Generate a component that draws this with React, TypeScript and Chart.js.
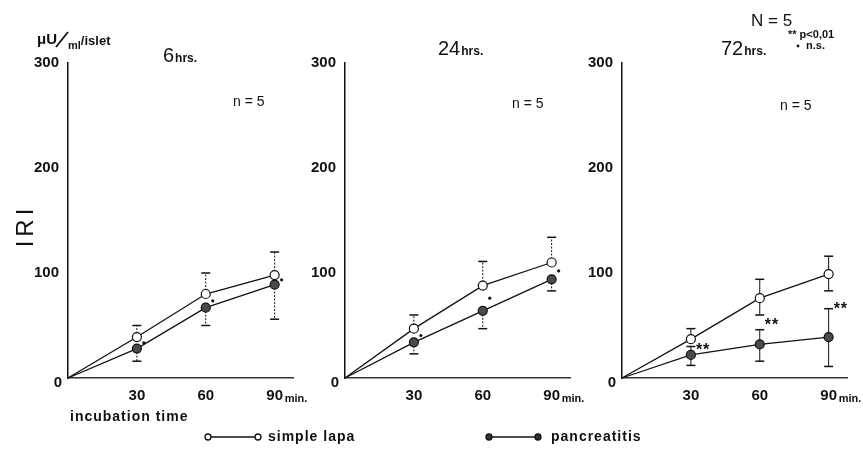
import { useEffect, useRef } from 'react';
import { Chart, registerables } from 'chart.js';

Chart.register(...registerables);

const FONT = '"Liberation Sans", Arial, sans-serif';
const INK = '#111111';

// ---------- data ----------
const TIMES = [0, 30, 60, 90];
const X_TICKS = [30, 60, 90];
const Y_MAX = 300;
const Y_STEP = 100;
const SERIES_NAMES = ['simple lapa', 'pancreatitis'];
const PANEL_HOURS = ['6', '24', '72'];
const PANEL_N = ['n = 5', 'n = 5', 'n = 5'];

// 6 hrs
const LAPA_6H = [0, 39, 80, 98];
const LAPA_6H_HI = [null, 50, 100, 120];
const LAPA_6H_LO = [null, null, null, null];
const PANC_6H = [0, 28, 67, 89];
const PANC_6H_HI = [null, null, null, null];
const PANC_6H_LO = [null, 16, 50, 56];
const SIG_6H = [null, '.', '.', '.'];

// 24 hrs
const LAPA_24H = [0, 47, 88, 110];
const LAPA_24H_HI = [null, 60, 111, 134];
const LAPA_24H_LO = [null, null, null, null];
const PANC_24H = [0, 34, 64, 94];
const PANC_24H_HI = [null, null, null, null];
const PANC_24H_LO = [null, 23, 47, 83];
const SIG_24H = [null, '.', '.', '.'];

// 72 hrs
const LAPA_72H = [0, 37, 76, 99];
const LAPA_72H_HI = [null, 47, 94, 116];
const LAPA_72H_LO = [null, null, 60, 83];
const PANC_72H = [0, 22, 32, 39];
const PANC_72H_HI = [null, 30, 46, 66];
const PANC_72H_LO = [null, 12, 16, 11];
const SIG_72H = [null, '**', '**', '**'];

// ---------- layout (pixels) ----------
const W = 863;
const H = 450;
const AREA_TOP = 63;
const AREA_BOTTOM = 378;
const AREA_W = 225;
const X_MAX = 98;
const Y_AXIS_W = 40;
const X_AXIS_H = 30;

type Panel = {
  lapa: number[]; lapaHi: (number | null)[]; lapaLo: (number | null)[];
  panc: number[]; pancHi: (number | null)[]; pancLo: (number | null)[];
  sig: (string | null)[];
  hours: string; n: string;
  left: number; titleX: number; titleY: number; nX: number; nY: number;
  dashedErr: boolean; first: boolean;
};

const PANELS: Panel[] = [
  { lapa: LAPA_6H, lapaHi: LAPA_6H_HI, lapaLo: LAPA_6H_LO, panc: PANC_6H, pancHi: PANC_6H_HI, pancLo: PANC_6H_LO, sig: SIG_6H,
    hours: PANEL_HOURS[0], n: PANEL_N[0], left: 68, titleX: 163, titleY: 62, nX: 233, nY: 102, dashedErr: true, first: true },
  { lapa: LAPA_24H, lapaHi: LAPA_24H_HI, lapaLo: LAPA_24H_LO, panc: PANC_24H, pancHi: PANC_24H_HI, pancLo: PANC_24H_LO, sig: SIG_24H,
    hours: PANEL_HOURS[1], n: PANEL_N[1], left: 345, titleX: 438, titleY: 55, nX: 512, nY: 104, dashedErr: true, first: false },
  { lapa: LAPA_72H, lapaHi: LAPA_72H_HI, lapaLo: LAPA_72H_LO, panc: PANC_72H, pancHi: PANC_72H_HI, pancLo: PANC_72H_LO, sig: SIG_72H,
    hours: PANEL_HOURS[2], n: PANEL_N[2], left: 622, titleX: 721, titleY: 55, nX: 780, nY: 106, dashedErr: false, first: false },
];

function txt(ctx: CanvasRenderingContext2D, s: string, x: number, y: number, font: string,
  align: CanvasTextAlign = 'left', base: CanvasTextBaseline = 'alphabetic', spacing = 0) {
  ctx.font = font;
  ctx.textAlign = align;
  ctx.textBaseline = base;
  ctx.fillStyle = INK;
  (ctx as any).letterSpacing = `${spacing}px`;
  ctx.fillText(s, x, y);
  const w = ctx.measureText(s).width;
  (ctx as any).letterSpacing = '0px';
  return w;
}

function makePlugin(p: Panel) {
  return {
    id: 'overlay',
    beforeDatasetsDraw(chart: any) {
      const ctx: CanvasRenderingContext2D = chart.ctx;
      const xs = chart.scales.x;
      const ys = chart.scales.y;
      const bars = [
        [p.lapa, p.lapaHi], [p.lapa, p.lapaLo], [p.panc, p.pancHi], [p.panc, p.pancLo],
      ] as [number[], (number | null)[]][];
      ctx.save();
      ctx.strokeStyle = INK;
      for (const [vals, ends] of bars) {
        for (let i = 0; i < TIMES.length; i++) {
          const e = ends[i];
          if (e == null) continue;
          const x = xs.getPixelForValue(TIMES[i]);
          const y0 = ys.getPixelForValue(vals[i]);
          const y1 = ys.getPixelForValue(e);
          ctx.lineWidth = 1;
          ctx.setLineDash(p.dashedErr ? [2, 1.5] : []);
          ctx.beginPath();
          ctx.moveTo(x, y0);
          ctx.lineTo(x, y1);
          ctx.stroke();
          ctx.setLineDash([]);
          ctx.lineWidth = 1.5;
          ctx.beginPath();
          ctx.moveTo(x - 4.5, y1);
          ctx.lineTo(x + 4.5, y1);
          ctx.stroke();
        }
      }
      ctx.restore();
    },
    afterDraw(chart: any) {
      const ctx: CanvasRenderingContext2D = chart.ctx;
      const xs = chart.scales.x;
      const ys = chart.scales.y;
      ctx.save();
      // significance marks
      for (let i = 0; i < TIMES.length; i++) {
        const s = p.sig[i];
        if (!s) continue;
        const x = xs.getPixelForValue(TIMES[i]);
        const ym = (ys.getPixelForValue(p.lapa[i]) + ys.getPixelForValue(p.panc[i])) / 2;
        if (s === '.') {
          ctx.fillStyle = INK;
          ctx.beginPath();
          ctx.arc(x + 7, ym, 1.6, 0, Math.PI * 2);
          ctx.fill();
        } else {
          txt(ctx, s, x + 5, ym + 4, `bold 16px ${FONT}`, 'left', 'middle', 1);
        }
      }
      // origin "0"
      txt(ctx, '0', xs.left - 10, ys.bottom + 5, `bold 15px ${FONT}`, 'center', 'middle');
      // "min." after 90
      const x90 = xs.getPixelForValue(90);
      txt(ctx, 'min.', x90 + 10, ys.bottom + 24, `bold 11px ${FONT}`);
      // title
      const wH = txt(ctx, p.hours, p.titleX, p.titleY, `20px ${FONT}`);
      txt(ctx, 'hrs.', p.titleX + wH + 1, p.titleY, `bold 12px ${FONT}`);
      // n=5
      txt(ctx, p.n, p.nX, p.nY, `14px ${FONT}`, 'left', 'middle');

      if (p.first) {
        // unit label
        let x = 37;
        x += txt(ctx, 'μU', x, 44, `bold 15px ${FONT}`);
        ctx.save();
        ctx.strokeStyle = INK;
        ctx.lineWidth = 1.8;
        ctx.beginPath();
        ctx.moveTo(x - 1, 47);
        ctx.lineTo(x + 11, 32);
        ctx.stroke();
        ctx.restore();
        x += 11;
        x += txt(ctx, 'ml', x, 49, `bold 11px ${FONT}`);
        txt(ctx, '/islet', x, 45, `bold 13px ${FONT}`);
        // IRI rotated
        ctx.save();
        ctx.translate(33, 226);
        ctx.rotate(-Math.PI / 2);
        txt(ctx, 'IRI', 0, 0, `24px ${FONT}`, 'center', 'alphabetic', 4);
        ctx.restore();
        // x title
        txt(ctx, 'incubation time', 70, 421, `bold 14px ${FONT}`, 'left', 'alphabetic', 1);
        // legend
        const names = chart.data.datasets.map((d: any) => d.label);
        const legendY = 437;
        const items = [
          { x0: 208, x1: 258, tx: 268, fill: '#ffffff', name: names[0] },
          { x0: 489, x1: 538, tx: 551, fill: '#333333', name: names[1] },
        ];
        for (const it of items) {
          ctx.strokeStyle = INK;
          ctx.lineWidth = 1.3;
          ctx.beginPath();
          ctx.moveTo(it.x0, legendY);
          ctx.lineTo(it.x1, legendY);
          ctx.stroke();
          for (const cx of [it.x0, it.x1]) {
            ctx.beginPath();
            ctx.arc(cx, legendY, 3, 0, Math.PI * 2);
            ctx.fillStyle = it.fill;
            ctx.fill();
            ctx.stroke();
          }
          txt(ctx, it.name, it.tx, legendY, `bold 14px ${FONT}`, 'left', 'middle', 1);
        }
      }
      if (p.hours === '72') {
        txt(ctx, 'N = 5', 751, 26, `17px ${FONT}`);
        txt(ctx, '** p<0,01', 788, 38, `bold 11px ${FONT}`);
        ctx.fillStyle = INK;
        ctx.beginPath();
        ctx.arc(798, 46, 1.4, 0, Math.PI * 2);
        ctx.fill();
        txt(ctx, 'n.s.', 806, 49, `bold 11px ${FONT}`);
      }
      ctx.restore();
    },
  };
}

function buildChart(canvas: HTMLCanvasElement, p: Panel) {
  const toPts = (vals: number[]) => TIMES.map((t, i) => ({ x: t, y: vals[i] }));
  const radius = (c: any) => (c.dataIndex === 0 ? 0 : 4.5);
  return new Chart(canvas, {
    type: 'line',
    data: {
      datasets: [
        {
          label: SERIES_NAMES[0],
          data: toPts(p.lapa),
          borderColor: INK,
          borderWidth: 1.3,
          pointRadius: radius,
          pointBackgroundColor: '#ffffff',
          pointBorderColor: INK,
          pointBorderWidth: 1.2,
          tension: 0,
          clip: false as any,
        },
        {
          label: SERIES_NAMES[1],
          data: toPts(p.panc),
          borderColor: INK,
          borderWidth: 1.3,
          pointRadius: radius,
          pointBackgroundColor: '#4a4a4a',
          pointBorderColor: INK,
          pointBorderWidth: 1.2,
          tension: 0,
          clip: false as any,
        },
      ],
    },
    options: {
      responsive: false,
      animation: false,
      events: [],
      layout: {
        padding: {
          left: p.left - Y_AXIS_W,
          right: W - (p.left + AREA_W),
          top: AREA_TOP,
          bottom: H - AREA_BOTTOM - X_AXIS_H,
        },
      },
      plugins: { legend: { display: false }, tooltip: { enabled: false }, title: { display: false } },
      scales: {
        x: {
          type: 'linear',
          min: 0,
          max: X_MAX,
          grid: { display: false },
          border: { display: true, color: '#333', width: 1.5 },
          afterBuildTicks: (s: any) => { s.ticks = X_TICKS.map((v) => ({ value: v })); },
          afterFit: (s: any) => { s.height = X_AXIS_H; },
          ticks: { color: INK, font: { family: FONT, size: 15, weight: 'bold' }, padding: 1, maxRotation: 0, autoSkip: false },
        },
        y: {
          type: 'linear',
          min: 0,
          max: Y_MAX,
          grid: { display: false },
          border: { display: true, color: INK, width: 1.5 },
          afterFit: (s: any) => { s.width = Y_AXIS_W; },
          ticks: {
            stepSize: Y_STEP,
            color: INK,
            padding: 1,
            font: { family: FONT, size: 15, weight: 'bold' },
            callback: (v: any) => (v === 0 ? '' : String(v)),
          },
        },
      },
    },
    plugins: [makePlugin(p)],
  });
}

export default function App() {
  const r0 = useRef<HTMLCanvasElement>(null);
  const r1 = useRef<HTMLCanvasElement>(null);
  const r2 = useRef<HTMLCanvasElement>(null);
  useEffect(() => {
    document.body.style.margin = '0';
    const refs = [r0, r1, r2];
    const charts = refs.map((r, i) => buildChart(r.current as HTMLCanvasElement, PANELS[i]));
    return () => charts.forEach((c) => c.destroy());
  }, []);
  const cs: React.CSSProperties = { position: 'absolute', left: 0, top: 0, width: W, height: H };
  return (
    <div style={{ position: 'relative', width: W, height: H, background: '#fff', overflow: 'hidden' }}>
      <canvas ref={r0} width={W} height={H} style={cs} />
      <canvas ref={r1} width={W} height={H} style={cs} />
      <canvas ref={r2} width={W} height={H} style={cs} />
    </div>
  );
}
